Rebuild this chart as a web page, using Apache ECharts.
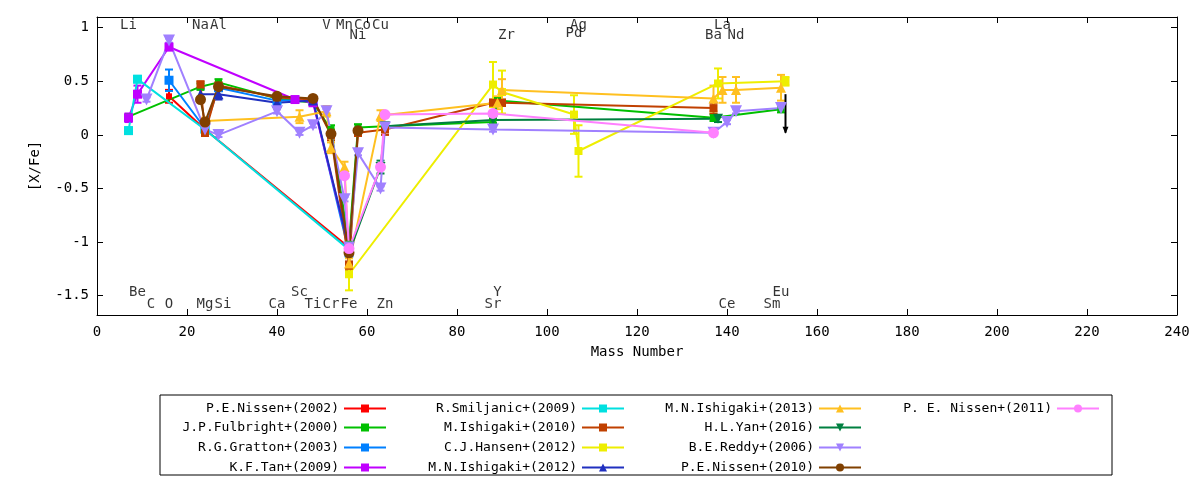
<!DOCTYPE html>
<html>
<head>
<meta charset="utf-8">
<script src="https://cdn.jsdelivr.net/npm/echarts@6/dist/echarts.min.js"></script>
<style>html,body{margin:0;background:#fff}#main{width:1200px;height:480px}</style>
</head>
<body>
<div id="main"></div>
<script>
"use strict";

// [mass, [X/Fe], error]
const nissen2002 = [[16, 0.36, 0.06], [24, 0.05, 0.03], [56, -1.05, 0.03]];
const fulbright2000 = [[7, 0.17, 0], [23, 0.45, 0.03], [27, 0.49, 0.03], [40, 0.34, 0.03], [48, 0.3, 0.03], [52, 0.05, 0.04], [56, -1.02, 0.03], [58, 0.07, 0.03], [64, 0.08, 0.03], [88, 0.12, 0.03], [89, 0.32, 0.03], [137, 0.16, 0.03], [152, 0.24, 0.03]];
const gratton2003 = [[16, 0.51, 0.1], [24, 0.06, 0.03], [27, 0.44, 0.03], [40, 0.32, 0.03], [48, 0.32, 0.03], [56, -1.1, 0.03]];
const tan2009 = [[7, 0.16, 0.04], [9, 0.38, 0.08], [16, 0.82, 0.03], [44, 0.33, 0.02], [48, 0.3, 0.02], [56, -1.05, 0.02]];
const smiljanic2009 = [[7, 0.04, 0.03], [9, 0.52, 0.03], [24, 0.05, 0.03], [56, -1.07, 0.03]];
const ishigaki2010 = [[23, 0.47, 0.03], [24, 0.02, 0.03], [27, 0.46, 0.03], [40, 0.35, 0.03], [48, 0.33, 0.03], [52, 0.0, 0.05], [56, -1.22, 0.04], [58, 0.02, 0.03], [64, 0.05, 0.05], [88, 0.3, 0.03], [90, 0.3, 0.03], [137, 0.25, 0.05]];
const hansen2012 = [[56, -1.3, 0.15], [88, 0.47, 0.21], [90, 0.4, 0.2], [106, 0.19, 0.18], [107, -0.15, 0.24], [138, 0.48, 0.14], [153, 0.5, 0.04]];
const ishigaki2012 = [[23, 0.38, 0.05], [27, 0.38, 0.05], [40, 0.3, 0.03], [48, 0.32, 0.03], [56, -1.05, 0.03]];
const ishigaki2013 = [[24, 0.13, 0.03], [45, 0.17, 0.06], [51, 0.22, 0.05], [52, -0.12, 0.05], [55, -0.3, 0.05], [56, -1.2, 0.05], [63, 0.18, 0.05], [89, 0.3, 0.06], [90, 0.42, 0.1], [137, 0.34, 0.12], [139, 0.42, 0.12], [142, 0.42, 0.12], [152, 0.44, 0.12]];
const yan2016 = [[56, -1.1, 0.03], [63, -0.3, 0.06], [64, 0.08, 0.03], [88, 0.14, 0.03], [138, 0.15, 0.03]];
const reddy2006 = [[11, 0.33, 0.02], [16, 0.88, 0.02], [24, 0.05, 0.02], [27, 0.0, 0.02], [40, 0.22, 0.02], [45, 0.02, 0.02], [48, 0.09, 0.02], [51, 0.22, 0.02], [55, -0.6, 0.02], [56, -1.05, 0.02], [58, -0.17, 0.02], [63, -0.5, 0.02], [64, 0.07, 0.02], [88, 0.05, 0.02], [137, 0.02, 0.02], [140, 0.12, 0.02], [142, 0.22, 0.02], [152, 0.25, 0.02]];
const nissen2010 = [[23, 0.33, 0.02], [24, 0.12, 0.02], [27, 0.45, 0.02], [40, 0.36, 0.02], [48, 0.34, 0.02], [52, 0.01, 0.02], [56, -1.1, 0.02], [58, 0.04, 0.02]];
const nissen2011 = [[55, -0.38, 0.02], [56, -1.06, 0.02], [63, -0.3, 0.02], [64, 0.19, 0.02], [88, 0.2, 0.02], [137, 0.02, 0.02]];
// upper limit: [mass, value, arrow length]
const upperLimits = [[153, 0.38, 0.36]];

// element labels: [mass, y, name]
const elementLabels = [
  [7, 1.02, "Li"], [23, 1.02, "Na"], [27, 1.02, "Al"], [51, 1.02, "V"], [55, 1.02, "Mn"], [59, 1.02, "Co"], [58, 0.93, "Ni"], [63, 1.02, "Cu"],
  [91, 0.93, "Zr"], [107, 1.02, "Ag"], [106, 0.95, "Pd"], [139, 1.02, "La"], [137, 0.93, "Ba"], [142, 0.93, "Nd"],
  [9, -1.47, "Be"], [12, -1.58, "C"], [16, -1.58, "O"], [24, -1.58, "Mg"], [28, -1.58, "Si"], [40, -1.58, "Ca"], [45, -1.47, "Sc"],
  [48, -1.58, "Ti"], [52, -1.58, "Cr"], [56, -1.58, "Fe"], [64, -1.58, "Zn"], [89, -1.47, "Y"], [88, -1.58, "Sr"],
  [140, -1.58, "Ce"], [152, -1.47, "Eu"], [150, -1.58, "Sm"]
];

const datasets = [
  { name: "P.E.Nissen+(2002)", data: nissen2002, color: "#ff0000", symbol: "rect", size: 6 },
  { name: "J.P.Fulbright+(2000)", data: fulbright2000, color: "#00c000", symbol: "rect", size: 7 },
  { name: "R.G.Gratton+(2003)", data: gratton2003, color: "#0080ff", symbol: "rect", size: 9 },
  { name: "K.F.Tan+(2009)", data: tan2009, color: "#c000ff", symbol: "rect", size: 9 },
  { name: "R.Smiljanic+(2009)", data: smiljanic2009, color: "#00e0e0", symbol: "rect", size: 9 },
  { name: "M.Ishigaki+(2010)", data: ishigaki2010, color: "#c04000", symbol: "rect", size: 8 },
  { name: "C.J.Hansen+(2012)", data: hansen2012, color: "#eeee00", symbol: "rect", size: 8 },
  { name: "M.N.Ishigaki+(2012)", data: ishigaki2012, color: "#2030c0", symbol: "triangle", size: 10 },
  { name: "M.N.Ishigaki+(2013)", data: ishigaki2013, color: "#ffc020", symbol: "triangle", size: 10 },
  { name: "H.L.Yan+(2016)", data: yan2016, color: "#008040", symbol: "path://M0,0L10,0L5,10Z", size: 10 },
  { name: "B.E.Reddy+(2006)", data: reddy2006, color: "#a080ff", symbol: "path://M0,0L10,0L5,10Z", size: 12 },
  { name: "P.E.Nissen+(2010)", data: nissen2010, color: "#804000", symbol: "circle", size: 11 },
  { name: "P. E. Nissen+(2011)", data: nissen2011, color: "#ff80ff", symbol: "circle", size: 11 }
];

const font = "DejaVu Sans Mono";
const chart = echarts.init(document.getElementById("main"));

function errorBars(color) {
  return function (params, api) {
    const x = api.value(0), y = api.value(1), e = api.value(2);
    const top = api.coord([x, y + e]);
    const bot = api.coord([x, y - e]);
    const style = { stroke: color, lineWidth: 2 };
    return {
      type: "group",
      children: [
        { type: "line", shape: { x1: top[0], y1: top[1], x2: bot[0], y2: bot[1] }, style },
        { type: "line", shape: { x1: top[0] - 4, y1: top[1], x2: top[0] + 4, y2: top[1] }, style },
        { type: "line", shape: { x1: bot[0] - 4, y1: bot[1], x2: bot[0] + 4, y2: bot[1] }, style }
      ]
    };
  };
}

const series = [];
datasets.forEach((d) => {
  series.push({
    name: d.name, type: "line", data: d.data, color: d.color,
    symbol: d.symbol, symbolSize: d.size, lineStyle: { width: 2 },
    encode: { x: 0, y: 1 }, animation: false
  });
  series.push({
    name: d.name + " err", type: "custom", data: d.data, renderItem: errorBars(d.color),
    encode: { x: 0, y: 1 }, silent: true, animation: false
  });
});

series.push({
  name: "limit", type: "custom", data: upperLimits, silent: true, animation: false,
  encode: { x: 0, y: 1 },
  renderItem: (params, api) => {
    const a = api.coord([api.value(0), api.value(1)]);
    const b = api.coord([api.value(0), api.value(1) - api.value(2)]);
    return {
      type: "group",
      children: [
        { type: "line", shape: { x1: a[0], y1: a[1], x2: b[0], y2: b[1] }, style: { stroke: "#000", lineWidth: 2 } },
        { type: "polygon", shape: { points: [[b[0] - 3, b[1] - 6], [b[0] + 3, b[1] - 6], [b[0], b[1] + 1]] }, style: { fill: "#000" } }
      ]
    };
  }
});

series.push({
  name: "labels", type: "scatter", data: elementLabels, symbolSize: 0, silent: true, animation: false,
  label: { show: true, position: "inside", formatter: (p) => p.data[2], color: "#000", fontFamily: font, fontSize: 14 }
});

// legend: 4 columns, right-aligned text before the sample
const colRight = [808, 570, 333, 95];
const rowTop = [397, 416, 436, 456];
const legends = datasets.map((d, i) => ({
  data: [d.name], right: colRight[Math.floor(i / 4)], top: rowTop[i % 4],
  align: "right", itemWidth: 42, itemHeight: 10, itemGap: 4,
  textStyle: { fontFamily: font, fontSize: 13, color: "#000" }, selectedMode: false
}));

const yTicks = [-1.5, -1, -0.5, 0, 0.5, 1];
const frameLine = { show: true, onZero: false, lineStyle: { color: "#000" } };

const option = {
  backgroundColor: "#fff",
  animation: false,
  grid: { left: 97, right: 23, top: 17, height: 298 },
  legend: legends,
  graphic: [{
    type: "rect", shape: { x: 160, y: 395, width: 952, height: 80 },
    style: { fill: "none", stroke: "#000", lineWidth: 1 }
  }],
  xAxis: [{
    type: "value", min: 0, max: 240, interval: 20,
    name: "Mass Number", nameLocation: "middle", nameGap: 30,
    nameTextStyle: { fontFamily: font, fontSize: 14, color: "#000" },
    axisLine: frameLine,
    axisTick: { inside: true, length: 6, lineStyle: { color: "#000" } },
    axisLabel: { fontFamily: font, fontSize: 14, color: "#000", margin: 10 },
    splitLine: { show: false }
  }, {
    type: "value", position: "top", min: 0, max: 240, interval: 20,
    axisLine: frameLine,
    axisTick: { inside: true, length: 6, lineStyle: { color: "#000" } },
    axisLabel: { show: false }, splitLine: { show: false }
  }],
  yAxis: [{
    type: "value", min: -1.68, max: 1.1,
    name: "[X/Fe]", nameLocation: "middle", nameGap: 55, nameRotate: 90,
    nameTextStyle: { fontFamily: font, fontSize: 14, color: "#000" },
    axisLine: frameLine,
    axisTick: { inside: true, length: 6, customValues: yTicks, lineStyle: { color: "#000" } },
    axisLabel: { fontFamily: font, fontSize: 14, color: "#000", customValues: yTicks, formatter: (v) => String(v) },
    splitLine: { show: false }
  }, {
    type: "value", position: "right", min: -1.68, max: 1.1,
    axisLine: frameLine,
    axisTick: { inside: true, length: 6, customValues: yTicks, lineStyle: { color: "#000" } },
    axisLabel: { show: false }, splitLine: { show: false }
  }],
  series: series
};

chart.setOption(option);
</script>
</body>
</html>
